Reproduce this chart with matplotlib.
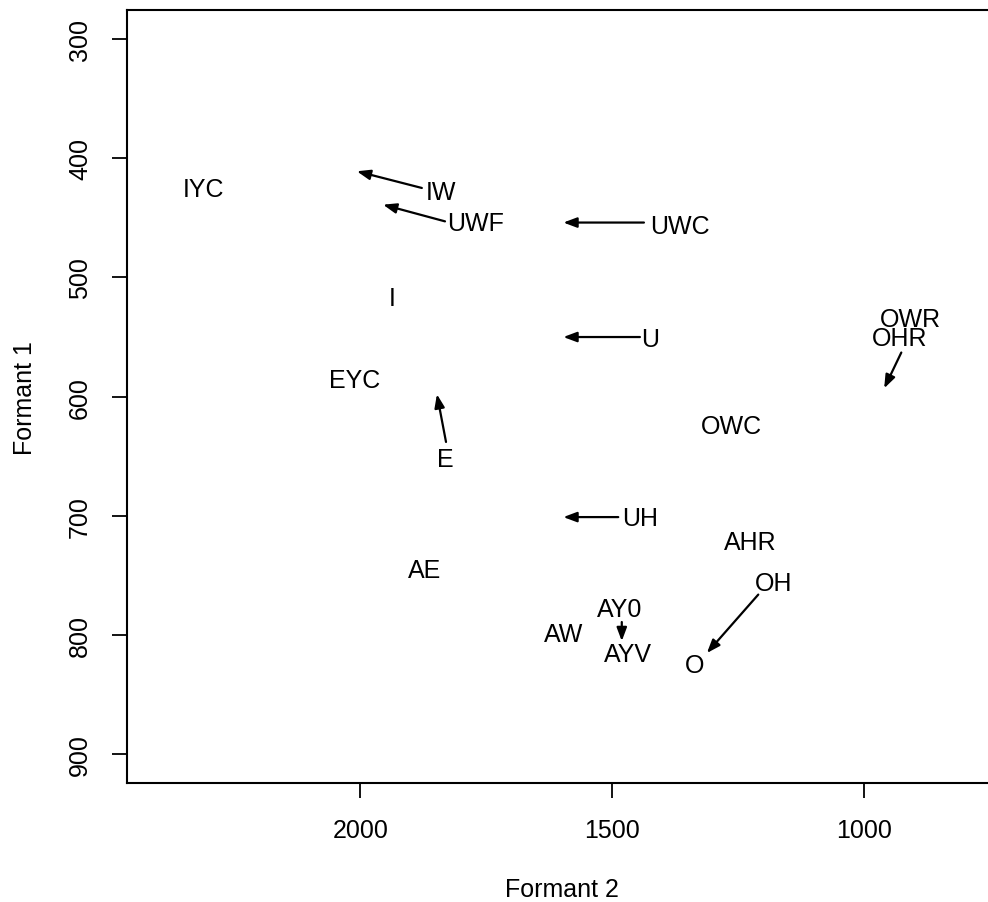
import matplotlib.pyplot as plt

plt.rcParams['font.family'] = ['Liberation Sans', 'DejaVu Sans']

# ==== vowel labels (Formant 2, Formant 1) ====
labels = ["IYC", "IW", "UWF", "UWC", "I", "U", "OWR", "OHR", "EYC", "OWC",
          "E", "UH", "AHR", "AE", "OH", "AY0", "AW", "AYV", "O"]
f2 = [2312, 1840, 1772, 1365, 1937, 1424, 907, 929, 2011, 1263,
      1831, 1445, 1225, 1872, 1180, 1485, 1597, 1468, 1336]
f1 = [426, 428, 454, 457, 517, 552, 535, 551, 586, 625,
      652, 702, 722, 745, 756, 778, 799, 816, 825]

# ==== arrows (start -> end) ====
arrow_f2_start = [1878, 1832, 1437, 1445, 926, 1830, 1488, 1210, 1481]
arrow_f1_start = [425, 453, 454, 550, 563, 638, 701, 766, 789]
arrow_f2_end = [2007, 1955, 1597, 1597, 960, 1848, 1597, 1312, 1481]
arrow_f1_end = [411, 439, 454, 550, 593, 598, 701, 815, 805]

xticks = [2000, 1500, 1000]
yticks = [300, 400, 500, 600, 700, 800, 900]

W, H = 988, 903
fig = plt.figure(figsize=(W / 100, H / 100), dpi=100)
ax = fig.add_axes([126.7 / W, (H - 784) / H, (997 - 126.7) / W, (784 - 11.3) / H])

ax.set_xlim(2464, 736)
ax.set_ylim(924, 276)

for lab, x, y in zip(labels, f2, f1):
    ax.text(x, y, lab, ha='center', va='center', fontsize=18)

for x0, y0, x1, y1 in zip(arrow_f2_start, arrow_f1_start, arrow_f2_end, arrow_f1_end):
    ax.annotate("", xy=(x1, y1), xytext=(x0, y0),
                arrowprops=dict(arrowstyle='-|>,head_length=0.8,head_width=0.3',
                                color='black', lw=1.6, shrinkA=0, shrinkB=0))

ax.set_xticks(xticks)
ax.set_yticks(yticks)
ax.set_xticklabels([str(t) for t in xticks])
ax.set_yticklabels([str(t) for t in yticks], rotation=90, va='center')
ax.tick_params(axis='both', direction='out', length=11, width=1.3,
               labelsize=18, pad=14)
for s in ax.spines.values():
    s.set_linewidth(1.5)

fig.text(562 / W, 1 - 890 / H, "Formant 2", ha='center', va='center', fontsize=18)
fig.text(25 / W, 1 - 397.6 / H, "Formant 1", ha='center', va='center',
         rotation=90, fontsize=18)

fig.savefig("out.png", dpi=100)
